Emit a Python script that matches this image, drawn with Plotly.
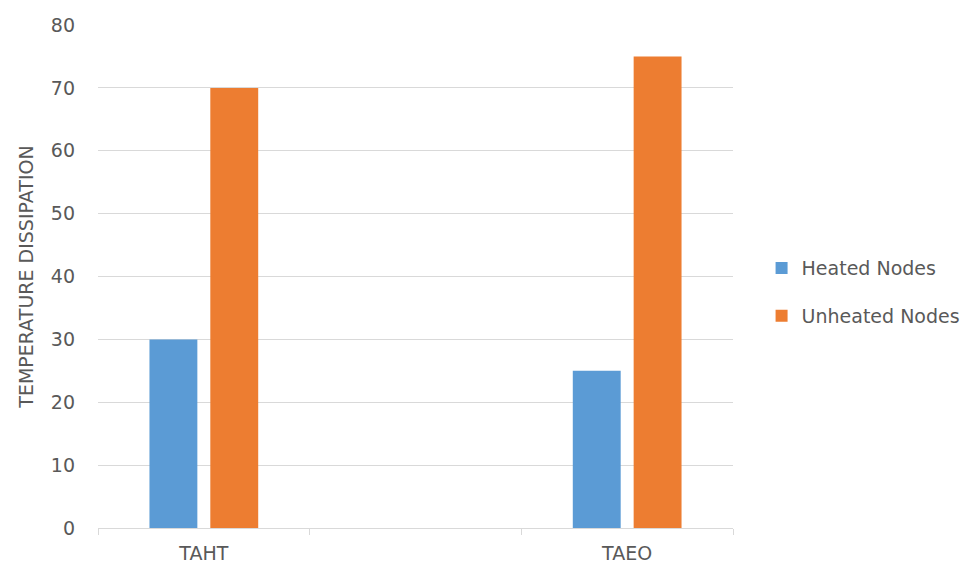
import plotly.graph_objects as go

categories = ["TAHT", " ", "TAEO"]
heated = [30, None, 25]
unheated = [70, None, 75]
series_names = ["Heated Nodes", "Unheated Nodes"]
colors = ["#5B9BD5", "#ED7D31"]

fig = go.Figure()
for i, (name, vals, col) in enumerate(zip(series_names, [heated, unheated], colors)):
    fig.add_trace(go.Bar(x=categories, y=vals, name=name, marker_color=col,
                         marker_line_width=0, legendgroup=f"g{i}"))

font_fam = "DejaVu Sans, sans-serif"
txt = "#595959"
fig.update_layout(
    width=978, height=569,
    margin=dict(l=98, r=243, t=25, b=41),
    paper_bgcolor="white", plot_bgcolor="white",
    barmode="group", bargap=0.425, bargroupgap=0.213,
    font=dict(family=font_fam, color=txt, size=19),
    legend=dict(x=1.045, y=0.469, xanchor="left", yanchor="middle",
                font=dict(size=19, color=txt), tracegroupgap=20,
                itemwidth=30),
    xaxis=dict(type="category", categoryorder="array", categoryarray=categories,
               showline=True, linecolor="#d9d9d9", linewidth=1,
               ticks="outside", tickson="boundaries", ticklen=6, tickcolor="#d9d9d9",
               showgrid=False, ticklabelstandoff=8, automargin=False,
               tickfont=dict(size=19, color=txt)),
    yaxis=dict(range=[0, 80], dtick=10, showgrid=True, gridcolor="#d9d9d9",
               zeroline=False, showline=False, ticks="",
               ticklabelstandoff=22, automargin=False,
               tickfont=dict(size=19, color=txt),
               title=dict(text="TEMPERATURE DISSIPATION", standoff=12,
                          font=dict(size=19, color=txt))),
)
fig.write_html("out.html")
